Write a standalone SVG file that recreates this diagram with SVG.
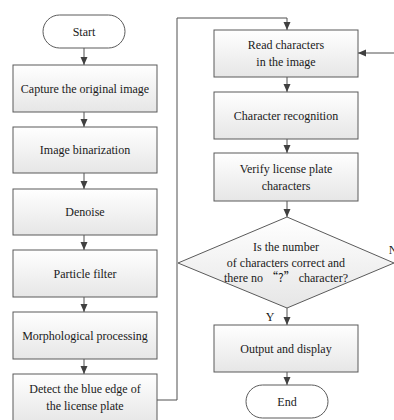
<svg xmlns="http://www.w3.org/2000/svg" width="394" height="420" viewBox="0 0 394 420">
<defs>
<linearGradient id="g" x1="0" y1="0" x2="0" y2="1">
<stop offset="0" stop-color="#ffffff"/>
<stop offset="1" stop-color="#e6e6e6"/>
</linearGradient>
<marker id="ah" viewBox="0 0 8 8" refX="8" refY="4" markerWidth="8" markerHeight="8" orient="auto" markerUnits="userSpaceOnUse">
<path d="M0,0.5 L8,4 L0,7.5 z" fill="#404040"/>
</marker>
<style>
.box{fill:url(#g);stroke:#5a5a5a;stroke-width:1}
.term{fill:#ffffff;stroke:#5a5a5a;stroke-width:1}
.t{font-family:'Liberation Serif','Times New Roman',serif;font-size:12px;fill:#1a1a1a;text-anchor:middle}
.c{fill:none;stroke:#505050;stroke-width:1}
</style>
</defs>
<rect width="394" height="420" fill="#ffffff"/>
<g id="connectors">
<line class="c" x1="84" y1="48" x2="84" y2="65" marker-end="url(#ah)"/>
<line class="c" x1="84" y1="112" x2="84" y2="127" marker-end="url(#ah)"/>
<line class="c" x1="84" y1="173" x2="84" y2="189" marker-end="url(#ah)"/>
<line class="c" x1="84" y1="235" x2="84" y2="250" marker-end="url(#ah)"/>
<line class="c" x1="84" y1="297" x2="84" y2="312" marker-end="url(#ah)"/>
<line class="c" x1="84" y1="359" x2="84" y2="374" marker-end="url(#ah)"/>
<polyline class="c" points="157,400 177,400 177,18 287,18 287,30" marker-end="url(#ah)"/>
<line class="c" x1="394" y1="53" x2="358" y2="53" marker-end="url(#ah)"/>
<line class="c" x1="287" y1="77" x2="287" y2="92" marker-end="url(#ah)"/>
<line class="c" x1="287" y1="139" x2="287" y2="153" marker-end="url(#ah)"/>
<line class="c" x1="287" y1="201" x2="287" y2="217" marker-end="url(#ah)"/>
<line class="c" x1="287" y1="308" x2="287" y2="325" marker-end="url(#ah)"/>
<line class="c" x1="287" y1="372" x2="287" y2="385" marker-end="url(#ah)"/>
<text class="t" x="270" y="321">Y</text>
<text class="t" x="393" y="254">N</text>
</g>
<g id="start">
<rect class="term" x="43" y="15" width="82" height="33" rx="16.5"/>
<text class="t" x="84" y="36">Start</text>
</g>
<g id="capture">
<rect class="box" x="13" y="65" width="144" height="47"/>
<text class="t" x="85" y="93">Capture the original image</text>
</g>
<g id="binarization">
<rect class="box" x="13" y="127" width="144" height="46"/>
<text class="t" x="85" y="154">Image binarization</text>
</g>
<g id="denoise">
<rect class="box" x="13" y="189" width="144" height="46"/>
<text class="t" x="85" y="216">Denoise</text>
</g>
<g id="particle">
<rect class="box" x="13" y="250" width="144" height="47"/>
<text class="t" x="85" y="278">Particle filter</text>
</g>
<g id="morph">
<rect class="box" x="13" y="312" width="144" height="47"/>
<text class="t" x="85" y="340">Morphological processing</text>
</g>
<g id="detect">
<rect class="box" x="13" y="374" width="144" height="50"/>
<text class="t" x="85" y="393">Detect the blue edge of</text>
<text class="t" x="85" y="410">the license plate</text>
</g>
<g id="read">
<rect class="box" x="214" y="30" width="144" height="47"/>
<text class="t" x="286" y="49">Read characters</text>
<text class="t" x="286" y="66">in the image</text>
</g>
<g id="recognition">
<rect class="box" x="214" y="92" width="144" height="47"/>
<text class="t" x="286" y="120">Character recognition</text>
</g>
<g id="verify">
<rect class="box" x="214" y="153" width="144" height="48"/>
<text class="t" x="286" y="173">Verify license plate</text>
<text class="t" x="286" y="190">characters</text>
</g>
<g id="decision">
<polygon class="box" points="287,217 394,263 287,308 178,263"/>
<text class="t" x="286" y="251">Is the number</text>
<text class="t" x="286" y="267">of characters correct and</text>
<text class="t" x="286" y="282">there no <tspan font-family="'Noto Sans CJK SC', sans-serif">“?”</tspan> character?</text>
</g>
<g id="output">
<rect class="box" x="214" y="325" width="144" height="47"/>
<text class="t" x="286" y="353">Output and display</text>
</g>
<g id="end">
<rect class="term" x="246" y="385" width="82" height="33" rx="16.5"/>
<text class="t" x="287" y="406">End</text>
</g>
</svg>
